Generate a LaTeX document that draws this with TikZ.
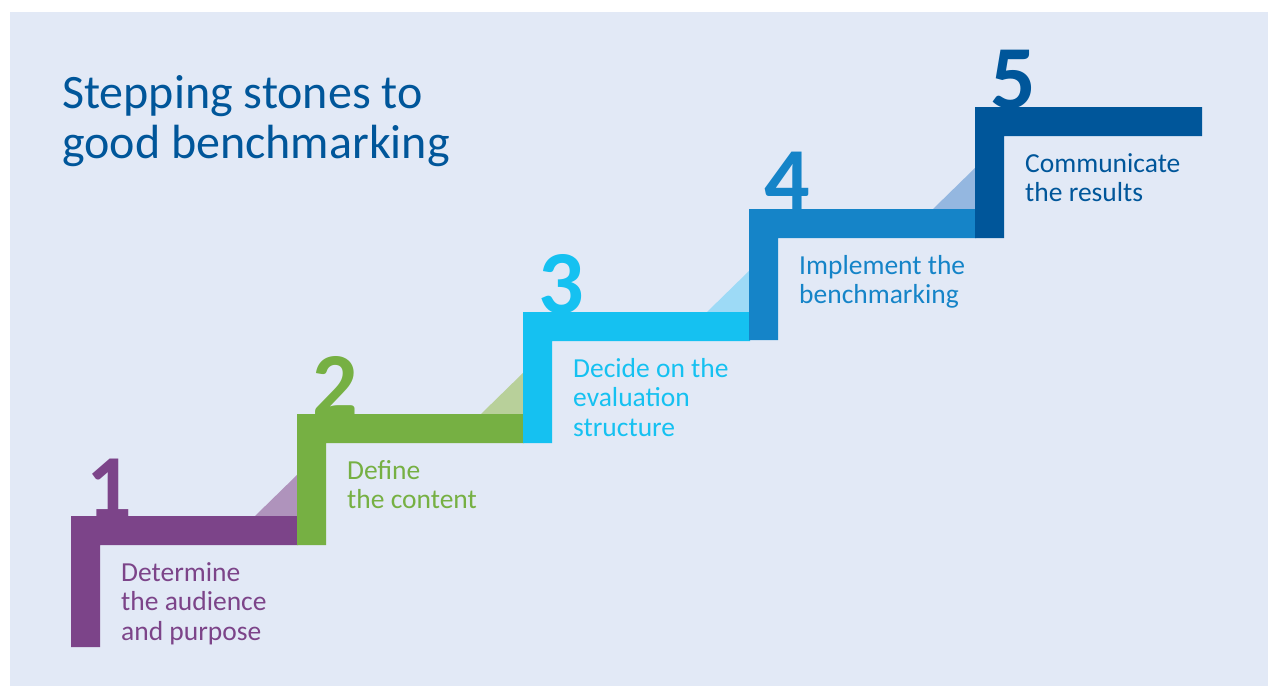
\documentclass[tikz,border=0pt]{standalone}
\usepackage{fontspec}
\setmainfont{Carlito}
\usetikzlibrary{positioning}
\definecolor{bgblue}{HTML}{E2E9F6}
\definecolor{titleblue}{HTML}{00569A}
\definecolor{stepA}{HTML}{7C4489}
\definecolor{stepAlight}{HTML}{AF93BC}
\definecolor{stepB}{HTML}{76B043}
\definecolor{stepBlight}{HTML}{B8D09A}
\definecolor{stepC}{HTML}{15C1F1}
\definecolor{stepClight}{HTML}{9DDAF6}
\definecolor{stepD}{HTML}{1584C8}
\definecolor{stepDlight}{HTML}{94B7E0}
\definecolor{stepE}{HTML}{00569A}

\begin{document}
\begin{tikzpicture}[
        x=1pt,y=-1pt,every node/.style={inner sep=0pt},
        title/.style={anchor=base west, align=left, text=titleblue,
          font=\fontsize{48}{50}\selectfont},
        num/.style={anchor=base west, font=\fontsize{90}{90}\selectfont\bfseries},
        steptext/.style={anchor=base west, align=left,
          font=\fontsize{27.5}{29.5}\selectfont}
        ]

        \useasboundingbox (0,0) rectangle (1268,686);
        \fill[white] (0,0) rectangle (1268,686);
        \fill[bgblue] (10,12) rectangle (1268,686);

        % base anchor sits on the last line
        \node[title] (title) at (62,158) {Stepping stones to\\good benchmarking};

        \coordinate (c_1) at (71,516);
        \coordinate (c_2) at (297,414);
        \coordinate (c_3) at (523,312);
        \coordinate (c_4) at (749,209);
        \coordinate (c_5) at (975,107);

        % light wedges in front of each riser
        \fill[stepAlight] ([shift={(184,0)}]c_1) -- ([shift={(227,0)}]c_1) -- ([shift={(227,-42)}]c_1) -- cycle;
        \fill[stepBlight] ([shift={(184,0)}]c_2) -- ([shift={(227,0)}]c_2) -- ([shift={(227,-42)}]c_2) -- cycle;
        \fill[stepClight] ([shift={(184,0)}]c_3) -- ([shift={(227,0)}]c_3) -- ([shift={(227,-42)}]c_3) -- cycle;
        \fill[stepDlight] ([shift={(184,0)}]c_4) -- ([shift={(227,0)}]c_4) -- ([shift={(227,-42)}]c_4) -- cycle;

        % the steps
        \fill[stepA] (c_1) rectangle +(227,29) (c_1) rectangle +(29,131);
        \fill[stepB] (c_2) rectangle +(227,29) (c_2) rectangle +(29,131);
        \fill[stepC] (c_3) rectangle +(227,29) (c_3) rectangle +(29,131);
        \fill[stepD] (c_4) rectangle +(227,29) (c_4) rectangle +(29,131);
        \fill[stepE] (c_5) rectangle +(227,29) (c_5) rectangle +(29,131);

        \node[num,text=stepA] (n_1) at ([shift={(15,1)}]c_1) {1};
        \node[num,text=stepB] (n_2) at ([shift={(15,1)}]c_2) {2};
        \node[num,text=stepC] (n_3) at ([shift={(15,1)}]c_3) {3};
        \node[num,text=stepD] (n_4) at ([shift={(15,1)}]c_4) {4};
        \node[num,text=stepE] (n_5) at ([shift={(15,1)}]c_5) {5};

        \node[steptext,text=stepA] (t_1) at ([shift={(50,124)}]c_1) {Determine\\the audience\\and purpose};
        \node[steptext,text=stepB] (t_2) at ([shift={(50,94.5)}]c_2) {Define\\the content};
        \node[steptext,text=stepC] (t_3) at ([shift={(50,124)}]c_3) {Decide on the\\evaluation\\structure};
        \node[steptext,text=stepD] (t_4) at ([shift={(50,94.5)}]c_4) {Implement the\\benchmarking};
        \node[steptext,text=stepE] (t_5) at ([shift={(50,94.5)}]c_5) {Communicate\\the results};
      \end{tikzpicture}
\end{document}
